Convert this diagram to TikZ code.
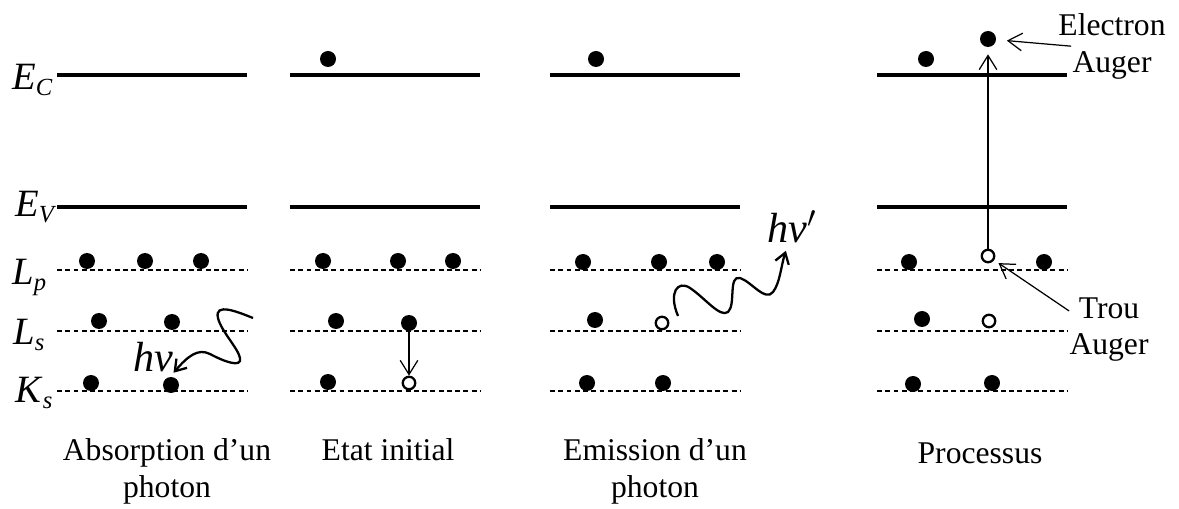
\documentclass[tikz,border=0pt]{standalone}
\usepackage{fontspec}
\setmainfont{Liberation Serif}
\usetikzlibrary{arrows.meta}
\newcommand{\lvl}[2]{\textit{#1}\raisebox{-0.3ex}{\fontsize{14}{14}\selectfont\textit{#2}}}

\begin{document}
\begin{tikzpicture}[x=0.02cm, y=-0.02cm, >={Straight Barb[length=8pt,width=10pt]}, font=\fontsize{18}{21}\selectfont,
	band/.style={line width=1.9pt},
	shell/.style={line width=0.6pt, dash pattern=on 2.8pt off 1.9pt},
	electron/.style={circle, fill, inner sep=0pt, minimum size=0.32cm},
	hole/.style={circle, draw, line width=1.3pt, inner sep=0pt, minimum size=0.25cm},
	thin arrow/.style={->, line width=0.7pt},
	photon/.style={-{Straight Barb[length=6pt,width=8pt]}, line width=1.3pt},
	level label/.style={anchor=base west, inner sep=0pt, font=\fontsize{22}{26}\selectfont},
	caption/.style={anchor=north, inner sep=0pt, align=center}]
	\useasboundingbox (0,0) rectangle (1179,509);
	% levels
	\foreach \x in {57,290,550,877} {
		\draw[band] (\x,75) -- ++(190,0);
		\draw[band] (\x,207) -- ++(190,0);
		\foreach \y in {270,331,391}
			\draw[shell] (\x,\y) -- ++(190,0);
	}
	\node[level label] (EC) at (12,90) {\lvl{E}{C}};
	\node[level label] (EV) at (15,217) {\lvl{E}{V}};
	\node[level label] (Lp) at (12,285) {\lvl{L}{p}};
	\node[level label] (Ls) at (13,345) {\lvl{L}{s}};
	\node[level label] (Ks) at (15,403) {\lvl{K}{s}};
	% electrons
	\foreach \p [count=\i] in {(87,261),(145,261),(201,261),(99,321),(172,322),(91,383),(171,385),
		(328,59),(323,261),(398,261),(453,261),(336,321),(328,382),
		(596,59),(583,262),(659,262),(717,262),(595,320),(587,383),(663,383),
		(926,59),(909,262),(1044,262),(922,319),(913,384),(992,383)}
		\node[electron] (e\i) at \p {};
	\node[electron] (Ls2) at (409,323) {};
	\node[electron] (EA) at (988,39) {};
	% holes
	\node[hole] (H2) at (409,383) {};
	\node[hole] (H3) at (662,323) {};
	\node[hole] (Hp) at (988,256) {};
	\node[hole] (Hs) at (989,321) {};
	% photons
	\node[inner sep=0pt, anchor=base west, font=\fontsize{24}{24}\selectfont] (nu1) at (133,372) {\textit{hν}};
	\node[inner sep=0pt, anchor=base west, font=\fontsize{24}{24}\selectfont] (nu3) at (767,243) {\textit{hν}$'$};
	\coordinate (w1) at (253,318);
	\coordinate (w3) at (678,316);
	\draw[photon] (w1) .. controls (238,312) and (214,302) .. (218,318)
		.. controls (221,331) and (238,348) .. (240,358)
		.. controls (242,368) and (225,362) .. (210,354)
		.. controls (198,348) and (188,356) .. (nu1.south east);
	\draw[photon] (w3) .. controls (668,292) and (678,280) .. (690,288)
		.. controls (705,298) and (720,318) .. (728,312)
		.. controls (736,305) and (728,275) .. (740,278)
		.. controls (752,282) and (765,302) .. (773,292)
		.. controls (780,283) and (781,266) .. ([xshift=-0.12cm,yshift=-0.14cm]nu3.south);
	% Auger
	\node[caption] (eauger) at (1112,13) {Electron\\Auger};
	\node[caption] (trou) at (1109,297) {Trou\\Auger};
	\path[thin arrow]
		(Ls2) edge (H2)
		(Hp) edge[shorten >=4pt] (EA)
		([xshift=0.26cm]eauger.west) edge[shorten >=6pt] (EA)
		(trou.155) edge[shorten >=3pt] (Hp);
	% captions
	\node[caption] (abs) at (167,438) {Absorption d’un\\photon};
	\node[caption] (etat) at (388,438) {Etat initial};
	\node[caption] (emis) at (655,438) {Emission d’un\\photon};
	\node[caption] (proc) at (980,442) {Processus};
\end{tikzpicture}
\end{document}
